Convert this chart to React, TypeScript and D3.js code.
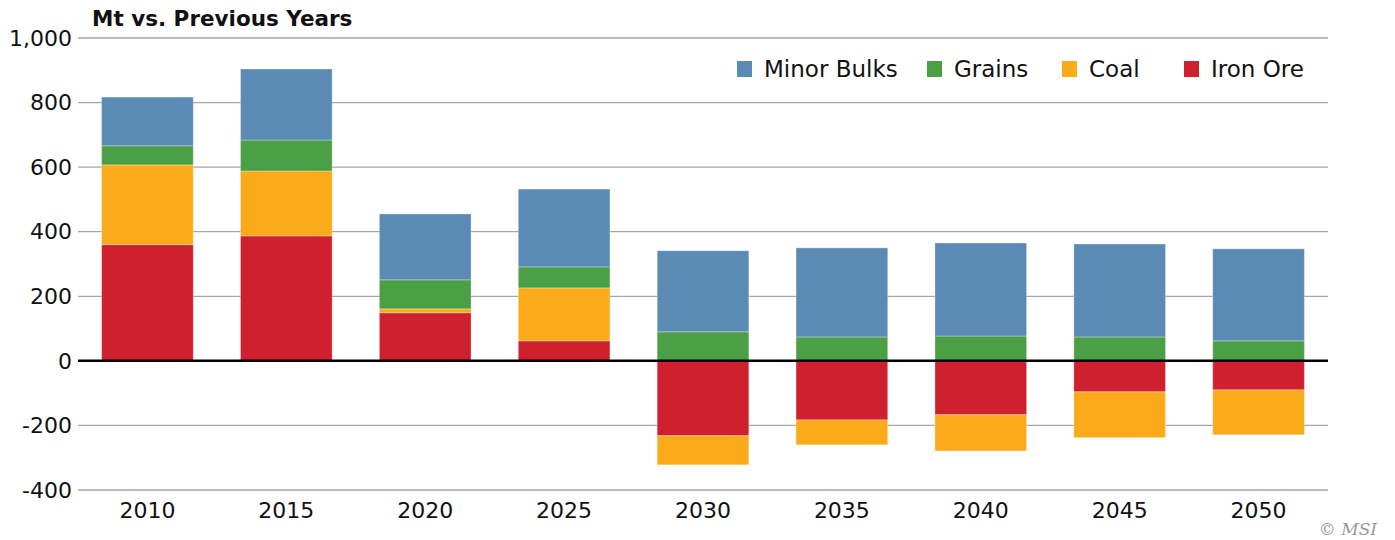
import React, { useEffect, useRef } from 'react';
import * as d3 from 'd3';

const years = ['2010', '2015', '2020', '2025', '2030', '2035', '2040', '2045', '2050'];
// positive stack from zero up: iron ore, coal, grains, minor bulks
const ironOre = [360, 387, 149, 62, -232, -183, -167, -96, -90];
const coal = [247, 201, 12, 164, -90, -77, -112, -142, -139];
const grains = [59, 96, 90, 65, 90, 74, 77, 74, 62];
const minorBulks = [151, 220, 204, 241, 251, 276, 288, 288, 285];
const yTicks = [-400, -200, 0, 200, 400, 600, 800, 1000];

const series = [
  { name: 'Iron Ore', values: ironOre, color: '#ce202f' },
  { name: 'Coal', values: coal, color: '#fbab1a' },
  { name: 'Grains', values: grains, color: '#4ba046' },
  { name: 'Minor Bulks', values: minorBulks, color: '#5b8ab5' },
];
const legendItems = ['Minor Bulks', 'Grains', 'Coal', 'Iron Ore'];

const FONT = '"DejaVu Sans", "Noto Sans", sans-serif';

const App = () => {
  const svgRef = useRef<SVGSVGElement | null>(null);

  useEffect(() => {
    if (!svgRef.current) return;
    const svg = d3.select(svgRef.current);
    svg.selectAll('*').remove();

    const width = 1395;
    const height = 540;
    const margin = { top: 38, right: 67, bottom: 50, left: 78 };

    const x = d3.scaleBand()
      .domain(years)
      .range([margin.left, width - margin.right])
      .paddingInner(0.34)
      .paddingOuter(0.17);

    const y = d3.scaleLinear()
      .domain([-400, 1000])
      .range([height - margin.bottom, margin.top]);

    // gridlines
    svg.append('g')
      .selectAll('line')
      .data(yTicks.filter(d => d !== 0))
      .join('line')
      .attr('x1', margin.left)
      .attr('x2', width - margin.right)
      .attr('y1', d => y(d))
      .attr('y2', d => y(d))
      .attr('stroke', '#a6a6a6')
      .attr('stroke-width', 1.3);

    // y labels (hyphen for negatives like the original)
    svg.append('g')
      .selectAll('text')
      .data(yTicks)
      .join('text')
      .attr('x', 72)
      .attr('y', d => y(d))
      .attr('dy', '0.35em')
      .attr('text-anchor', 'end')
      .attr('font-family', FONT)
      .attr('font-size', 22)
      .attr('fill', '#111')
      .text(d => d3.format(',')(d).replace('\u2212', '-'));

    // stacked bars, positives up from 0, negatives down from 0
    const posBase = years.map(() => 0);
    const negBase = years.map(() => 0);
    series.forEach(s => {
      const rects = s.values.map((v, i) => {
        let y0, y1;
        if (v >= 0) {
          y0 = posBase[i]; y1 = y0 + v; posBase[i] = y1;
        } else {
          y0 = negBase[i]; y1 = y0 + v; negBase[i] = y1;
        }
        return { year: years[i], y0, y1 };
      });
      svg.append('g')
        .selectAll('rect')
        .data(rects)
        .join('rect')
        .attr('x', d => x(d.year)!)
        .attr('width', x.bandwidth())
        .attr('y', d => y(Math.max(d.y0, d.y1)))
        .attr('height', d => Math.abs(y(d.y0) - y(d.y1)))
        .attr('fill', s.color)
        .attr('stroke', 'rgba(255,255,255,0.3)')
        .attr('stroke-width', 1);
    });

    // zero line
    svg.append('line')
      .attr('x1', margin.left)
      .attr('x2', width - margin.right)
      .attr('y1', y(0))
      .attr('y2', y(0))
      .attr('stroke', '#000')
      .attr('stroke-width', 2.5);

    // x labels
    svg.append('g')
      .selectAll('text')
      .data(years)
      .join('text')
      .attr('x', d => x(d)! + x.bandwidth() / 2)
      .attr('y', 518)
      .attr('text-anchor', 'middle')
      .attr('font-family', FONT)
      .attr('font-size', 22)
      .attr('fill', '#111')
      .text(d => d);

    // title
    svg.append('text')
      .attr('x', 92)
      .attr('y', 26)
      .attr('font-family', FONT)
      .attr('font-weight', 'bold')
      .attr('font-size', 21.5)
      .attr('fill', '#111')
      .text('Mt vs. Previous Years');

    // legend
    const legendX = [737, 927, 1062, 1184];
    const lg = svg.append('g');
    legendItems.forEach((name, i) => {
      const s = series.find(d => d.name === name)!;
      lg.append('rect')
        .attr('x', legendX[i])
        .attr('y', 61)
        .attr('width', 15)
        .attr('height', 16)
        .attr('fill', s.color);
      lg.append('text')
        .attr('x', legendX[i] + 27)
        .attr('y', 69)
        .attr('dy', '0.35em')
        .attr('font-family', FONT)
        .attr('font-size', 23)
        .attr('fill', '#111')
        .text(name);
    });

    // credit
    svg.append('text')
      .attr('x', 1377)
      .attr('y', 535)
      .attr('text-anchor', 'end')
      .attr('font-family', '"DejaVu Serif", "Liberation Serif", serif')
      .attr('font-style', 'italic')
      .attr('font-size', 17)
      .attr('fill', '#999')
      .text('© MSI');
  }, []);

  return (
    <svg ref={svgRef} width={1395} height={540} style={{ position: 'absolute', left: 0, top: 0 }} />
  );
};

export default App;
